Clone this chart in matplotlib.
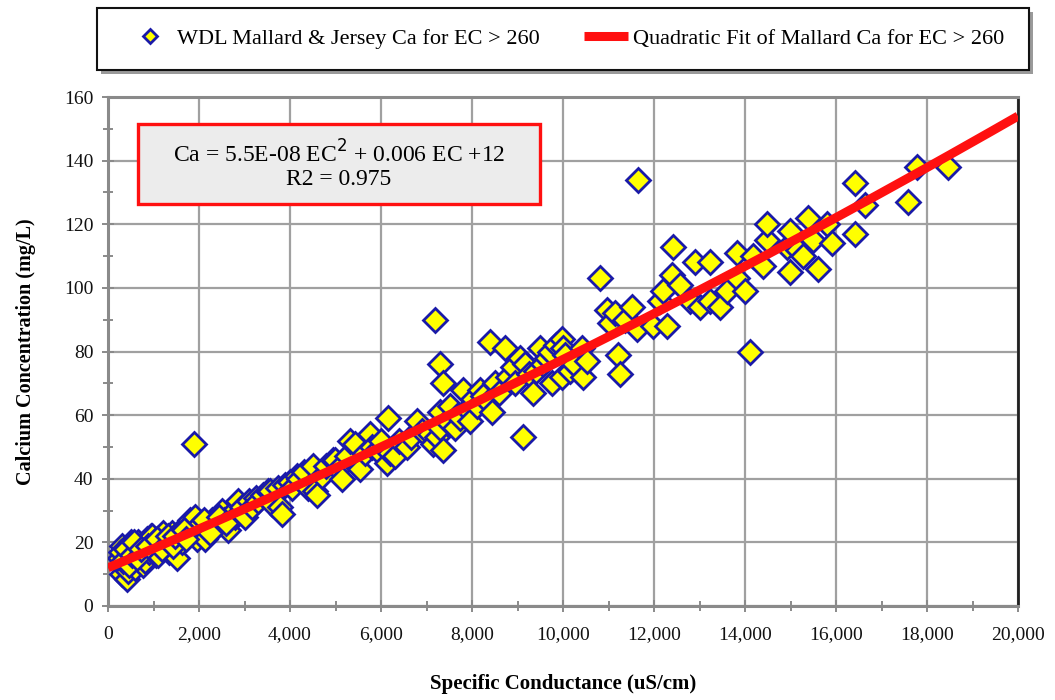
import numpy as np
import matplotlib
matplotlib.use("Agg")
import matplotlib.pyplot as plt
from matplotlib.ticker import MultipleLocator, FuncFormatter
from matplotlib.patches import Rectangle

plt.rcParams['font.family'] = ['Liberation Serif', 'DejaVu Serif']

# Specific conductance (uS/cm) and calcium (mg/L) samples
ec = [270, 300, 310, 350, 380, 420, 440, 480, 500, 540, 560, 600, 620, 660, 700,
      750, 780, 810, 850, 900, 950, 970, 1000, 1050, 1100, 1150, 1200, 1250, 1300,
      1350, 1400, 1450, 1520, 1550, 1600, 1630, 1700, 1760, 1800, 1850, 1900, 1910,
      1950, 2000, 2050, 2130, 2200, 2290, 2350, 2400, 2510, 2550, 2640, 2700, 2800,
      2860, 2950, 3010, 3100, 3160, 3250, 3300, 3400, 3520, 3560, 3600, 3740, 3780,
      3820, 3900, 4000, 4050, 4150, 4200, 4300, 4400, 4510, 4550, 4590, 4700, 4800,
      4950, 4990, 5050, 5140, 5250, 5320, 5430, 5540, 5650, 5760, 5800, 5910, 6000,
      6130, 6150, 6200, 6310, 6400, 6570, 6650, 6790, 6900, 7080, 7140, 7230, 7190,
      7300, 7300, 7360, 7360, 7300, 7450, 7520, 7630, 7700, 7740, 7800, 7900, 7960,
      8020, 8100, 8180, 8250, 8350, 8400, 8440, 8510, 8600, 8730, 8790, 8900, 8950,
      9050, 9120, 9160, 9250, 9340, 9400, 9490, 9560, 9650, 9710, 9760, 9850, 9980,
      10000, 9980, 10050, 10150, 10250, 10420, 10440, 10530, 10810, 10970, 11030,
      11140, 11210, 11250, 11360, 11520, 11630, 11650, 11980, 12130, 12200, 12290,
      12400, 12420, 12570, 12790, 12900, 13010, 13230, 13230, 13450, 13600, 13820,
      13820, 13990, 14110, 14180, 14400, 14480, 14480, 14920, 14990, 14990, 15160,
      15270, 15390, 15500, 15600, 15800, 15910, 16420, 16420, 16640, 17580, 17780,
      18460, 280, 330, 400, 460, 520, 580, 640, 720, 880, 1080, 1180, 1320, 1420,
      1480, 1680, 1720, 2100, 2250, 2450, 2600]
ca = [15, 19, 10, 13, 17, 8.5, 11, 16, 20, 14, 18, 12, 17, 20, 15,
      19, 13, 14, 21, 17, 22, 22, 18, 16, 16, 20, 23, 19, 21,
      17, 23, 20, 15, 21, 24, 20, 22, 25, 27, 23, 51, 28,
      21, 25, 26, 21, 24, 27, 26, 25, 30, 27, 24, 29, 28,
      33, 31, 28, 33, 31, 34, 33, 35, 36, 36, 32, 37, 31,
      29, 38, 39, 37, 41, 40, 42, 37, 44, 36, 35, 41, 44,
      46, 46, 43, 40, 47, 52, 51, 43, 48, 54, 50, 49, 52,
      45, 59, 48, 47, 52, 50, 53, 58, 55, 54, 51, 53, 90,
      76, 61, 70, 49, 56, 58, 63, 56, 60, 59, 68, 62, 58,
      65, 63, 68, 66, 64, 83, 61, 70, 67, 81, 72, 75, 70,
      78, 53, 76, 73, 67, 74, 81, 76, 78, 80, 70, 82, 84,
      81, 72, 79, 74, 76, 81, 72, 77, 103, 93, 89,
      92, 79, 73, 90, 94, 87, 134, 88, 96, 99, 88,
      104, 113, 101, 96, 108, 94, 108, 96, 94, 99, 111,
      103, 99, 80, 110, 107, 115, 120, 113, 118, 105, 112,
      110, 122, 115, 106, 120, 114, 133, 117, 126, 127, 138,
      138, 17, 14, 18, 13, 16, 20, 15, 18, 19, 21, 18, 22, 19,
      22, 24, 21, 27, 23, 28, 26]

# Quadratic fit coefficients: Ca = a*EC^2 + b*EC + c
fit_a, fit_b, fit_c = 5.5e-08, 0.006, 12.0
fit_ec = np.linspace(0, 20000, 200)
fit_ca = fit_a * fit_ec ** 2 + fit_b * fit_ec + fit_c

fig = plt.figure(figsize=(10.55, 7.0), dpi=100)
ax = fig.add_axes([108 / 1055, 94 / 700, 910 / 1055, 509 / 700])

ax.set_axisbelow(True)
ax.grid(True, which='major', color='#a0a0a0', linewidth=1.6)

pts, = ax.plot(ec, ca, linestyle='none', marker='D', markersize=12.5,
               markerfacecolor='#ffff00', markeredgecolor='#1a1aa8',
               markeredgewidth=2.0, zorder=3,
               label='WDL Mallard & Jersey Ca for EC > 260')
fit, = ax.plot(fit_ec, fit_ca, color='#ff1010', linewidth=6.5, zorder=4,
               solid_capstyle='butt',
               label='Quadratic Fit of Mallard Ca for EC > 260')

ax.set_xlim(0, 20000)
ax.set_ylim(0, 160)
ax.xaxis.set_major_locator(MultipleLocator(2000))
ax.xaxis.set_minor_locator(MultipleLocator(1000))
ax.yaxis.set_major_locator(MultipleLocator(20))
ax.yaxis.set_minor_locator(MultipleLocator(10))
ax.xaxis.set_major_formatter(FuncFormatter(lambda v, p: f"{int(v):,}"))

for side in ('left', 'bottom', 'top'):
    ax.spines[side].set_color('#8a8a8a')
    ax.spines[side].set_linewidth(2.2)
ax.spines['right'].set_color('#202020')
ax.spines['right'].set_linewidth(2.0)

ax.tick_params(which='both', direction='inout', color='#8a8a8a', width=1.4,
               labelsize=14, labelcolor='#111111')
ax.tick_params(which='major', length=9, pad=6)
ax.tick_params(which='minor', length=7)
ax.tick_params(axis='x', pad=10)

ax.set_xlabel('Specific Conductance (uS/cm)', fontsize=15, fontweight='bold',
              labelpad=22)
ax.set_ylabel('Calcium Concentration (mg/L)', fontsize=14.5, fontweight='bold',
              labelpad=20)

# Fit equation box
eq_box = Rectangle((0.033, 0.790), 0.4417, 0.157, transform=ax.transAxes,
                   facecolor='#ececec', edgecolor='#ff1010', linewidth=2.4,
                   zorder=6)
ax.add_patch(eq_box)
ax.text(0.2538, 0.866, 'Ca = 5.5E-08 EC$^2$ + 0.006 EC +12\nR2 = 0.975',
        transform=ax.transAxes, ha='center', va='center', fontsize=17,
        linespacing=1.1, zorder=7)

# Legend across the top with drop shadow
shadow = Rectangle((101 / 1055, 1 - 74 / 700), 932 / 1055, 62 / 700,
                   transform=fig.transFigure, facecolor='#9a9a9a',
                   edgecolor='none', zorder=0)
fig.patches.append(shadow)
frame = Rectangle((97 / 1055, 1 - 70 / 700), 932 / 1055, 62 / 700,
                  transform=fig.transFigure, facecolor='white',
                  edgecolor='#111111', linewidth=1.5, zorder=1)
fig.patches.append(frame)
leg = fig.legend(handles=[pts, fit], loc='center', ncol=2,
                 bbox_to_anchor=(566 / 1055, 1 - 39 / 700), frameon=False,
                 fontsize=16, markerscale=0.55, handlelength=2.0,
                 handletextpad=0.2, columnspacing=2.0)

fig.savefig('out.png', dpi=100)
